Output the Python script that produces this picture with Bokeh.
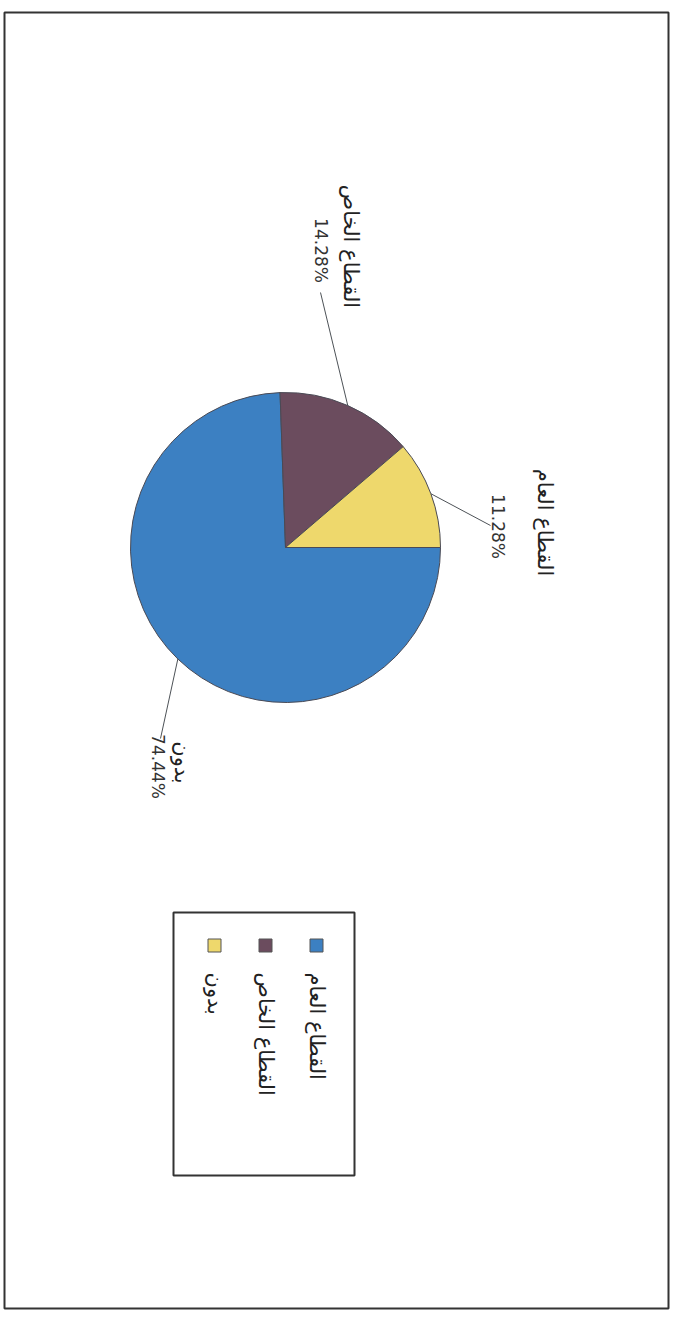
import math
from bokeh.plotting import figure
from bokeh.models import Range1d, ColumnDataSource
from bokeh.core.properties import value
from bokeh.embed import file_html
from bokeh.resources import INLINE

# ---- data (legend order) ----
categories = ["القطاع العام", "القطاع الخاص", "بدون"]
values = [74.44, 14.28, 11.28]
colors = ["#3C80C2", "#6B4C5E", "#EED86C"]
# data-label names exactly as printed next to each slice in the picture
label_names = ["بدون", "القطاع الخاص", "القطاع العام"]
label_values = ["74.44%", "14.28%", "11.28%"]

FONT = value("DejaVu Sans")
W, H = 670, 1310


def Y(py):
    return H - py


p = figure(width=W, height=H, output_backend="svg", toolbar_location=None,
           x_range=Range1d(0, W), y_range=Range1d(0, H), min_border=0)
p.axis.visible = False
p.grid.visible = False
p.outline_line_color = None
p.background_fill_color = "white"

# outer frame
p.quad(left=[4], right=[668], bottom=[Y(1308)], top=[Y(12)],
       fill_color=None, line_color="#333333", line_width=2)

# ---- pie (chart printed rotated 90 deg clockwise) ----
cx, cy, r = 285, 547, 155
total = sum(values)
cum = 0.0
starts, ends, mids = [], [], []
for v in values:
    a0 = cum / total * 2 * math.pi
    cum += v
    a1 = cum / total * 2 * math.pi
    starts.append(-a1)
    ends.append(-a0)
    mids.append(-(a0 + a1) / 2)

src = ColumnDataSource(dict(x=[cx] * 3, y=[Y(cy)] * 3, s=starts, e=ends, c=colors))
p.wedge(x="x", y="y", radius=r, start_angle="s", end_angle="e", fill_color="c",
        line_color="#4a4a55", line_width=1, source=src)

# ---- data labels with leader lines ----
label_pos = {  # page positions: (x of name line, x of value line, y centre, leader end x, leader end y)
    0: (181, 157, 762, 160, 738),
    1: (350, 320, 246, 320, 292),
    2: (544, 497, 522, 490, 525),
}
for i in range(3):
    nx, vx, yc, lx, ly = label_pos[i]
    ex = cx + r * math.cos(mids[i])
    ey = cy - r * math.sin(mids[i])
    p.line([ex, lx], [Y(ey), Y(ly)], line_color="#4d5257", line_width=1)
    p.text(x=[nx], y=[Y(yc)], text=[label_names[i]], angle=-math.pi / 2,
           text_align="center", text_baseline="middle", text_font=FONT,
           text_font_size="21px", text_color="#222222")
    p.text(x=[vx], y=[Y(yc + 4)], text=[label_values[i]], angle=-math.pi / 2,
           text_align="center", text_baseline="middle", text_font=FONT,
           text_font_size="17px", text_color="#333333")

# ---- legend (rotated) ----
p.quad(left=[173], right=[354], bottom=[Y(1175)], top=[Y(912)],
       fill_color="white", line_color="#333333", line_width=2)
leg_x = [316, 265, 214]
p.rect(x=leg_x, y=[Y(945)] * 3, width=13, height=13, fill_color=colors,
       line_color="#555555", line_width=1)
p.text(x=leg_x, y=[Y(972)] * 3, text=categories, angle=-math.pi / 2,
       text_align="left", text_baseline="middle", text_font=FONT,
       text_font_size="21px", text_color="#222222")

open("out.html", "w").write(file_html(p, INLINE))
